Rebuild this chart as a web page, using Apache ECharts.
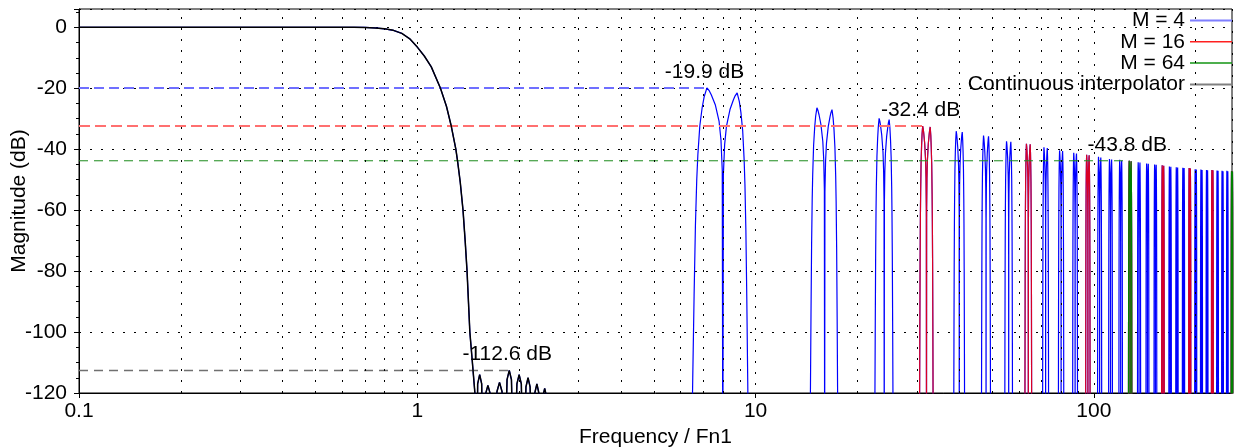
<!DOCTYPE html>
<html>
<head>
<meta charset="UTF-8">
<title>Interpolator magnitude response</title>
<style>
  html, body { margin: 0; padding: 0; background: #fff; }
  #chart { width: 1234px; height: 448px; }
</style>
</head>
<body>
<div id="chart"></div>
<script src="https://cdn.jsdelivr.net/npm/echarts@6/dist/echarts.min.js"></script>
<script>
// baseband response (the same for every curve)
var baseFreq = [0.1, 0.5, 0.65, 0.7, 0.75, 0.8, 0.85, 0.9, 0.95, 1.0, 1.05, 1.1, 1.17, 1.22, 1.26, 1.30, 1.315, 1.34, 1.365, 1.385, 1.403, 1.43, 1.455, 1.48, 1.50,
    1.508, 1.529, 1.55, 1.565,
    1.59, 1.617, 1.645, 1.69,
    1.72, 1.75, 1.78, 1.81,
    1.842, 1.87, 1.898, 1.93,
    1.97, 2.0, 2.03, 2.06,
    2.095, 2.125, 2.155, 2.19,
    2.225, 2.257, 2.287, 2.32,
    2.352, 2.38, 2.408, 2.44];
var baseDb = [0, 0, 0, -0.05, -0.2, -0.5, -1.0, -2.0, -3.8, -6.5, -9.5, -13, -19.9, -26, -32.4, -40, -43.8, -51, -60, -70, -80, -100, -110, -120, -150,
    -117, -114, -117, -150,
    -120.5, -117.5, -120.5, -150,
    -119.5, -116.5, -119.5, -150,
    -115.6, -112.6, -115.6, -150,
    -117, -114, -117, -150,
    -118, -115, -118, -150,
    -120, -117, -120, -150,
    -121, -118.5, -121, -150];

// shape of one image lobe: distance from the image centre (Fn1) and level below the lobe peak (dB)
var lobeDist  = [0.03, 0.1, 0.2, 0.4, 0.6, 0.7, 0.82, 0.95, 1.05, 1.16, 1.25, 1.3, 1.36, 1.42, 1.48, 1.52, 1.58];
var lobeShape = [-27, -17, -11, -5.5, -2.3, -1, 0, -2.8, -6.5, -12.5, -22, -30, -45, -68, -95, -115, -140];
var nullDb = -150;

// image centres and their two peak levels
var imageCentres = [8, 16, 24, 32, 40, 48, 56, 64, 72, 80, 88, 96, 104, 112, 120, 128,
    136, 144, 152, 160, 168, 176, 184, 192, 200, 208, 216, 224, 232, 240, 248, 256];
var imagePeakL = [-19.9, -26.4, -29.9, -32.4, -34.1, -35.5, -37.4, -38.2, -39.4, -40.4, -41.2, -41.8, -42.5, -43.2, -43.5, -43.8,
    -44.3, -44.7, -45.0, -45.3, -45.7, -45.9, -46.1, -46.2, -46.6, -46.7, -46.8, -46.8, -47.0, -47.1, -47.1, -47.2];
var imagePeakR = [-21.5, -27.0, -30.3, -32.7, -34.4, -35.8, -37.6, -38.4, -39.6, -40.6, -41.4, -42.0, -42.7, -43.4, -43.7, -44.0,
    -44.4, -44.8, -45.1, -45.4, -45.8, -46.0, -46.2, -46.3, -46.7, -46.8, -46.9, -46.9, -47.1, -47.2, -47.2, -47.3];
var m16Centres = [32, 64, 96, 128, 160, 192, 224, 256];
var m64Centres = [128, 256];

// worst-case markers
var refLevels = [-19.9, -32.4, -43.8, -112.6];
var refEndFreq = [7.16, 31.16, 127.16, 1.87];
var refLabels = ['-19.9 dB', '-32.4 dB', '-43.8 dB', '-112.6 dB'];

var minorFreqs = [0.2, 0.3, 0.4, 0.5, 0.6, 0.7, 0.8, 0.9, 2, 3, 4, 5, 6, 7, 8, 9, 20, 30, 40, 50, 60, 70, 80, 90, 200];
var legendNames = ['M = 4', 'M = 16', 'M = 64', 'Continuous interpolator'];

var font = "'Liberation Sans', Arial, sans-serif";
var fs = 21;

function baseband() {
    var pts = [];
    for (var i = 0; i < baseFreq.length; i++) pts.push([baseFreq[i], baseDb[i]]);
    return pts;
}

function lobes(centres) {
    var pts = [];
    centres.forEach(function (c) {
        var k = imageCentres.indexOf(c);
        var pl = imagePeakL[k], pr = imagePeakR[k];
        for (var i = lobeDist.length - 1; i >= 0; i--) pts.push([c - lobeDist[i], pl + lobeShape[i]]);
        pts.push([c, nullDb]);
        for (var j = 0; j < lobeDist.length; j++) pts.push([c + lobeDist[j], pr + lobeShape[j]]);
    });
    return pts;
}

function curve(name, data, color, width, opacity) {
    return {
        name: name, type: 'line', data: data, symbol: 'none', clip: true,
        lineStyle: { color: color, width: width, opacity: opacity },
        itemStyle: { color: color },
        emphasis: { disabled: true }, silent: true
    };
}

var refColors = ['#6f6fff', '#ff7070', '#1a8a1a', '#707070'];
var refWidths = [2, 2, 1, 1.5];
var refDash = [[10, 5], [11, 5], [9, 6], [9, 6]];

var series = [
    curve('M = 4', baseband().concat(lobes(imageCentres)), '#0000ff', 1.2, 1),
    curve('M = 16', lobes(m16Centres), '#ff0000', 1.2, 0.85),
    curve('M = 64', lobes(m64Centres), '#008000', 1.2, 1)
];

refLevels.forEach(function (lv, i) {
    series.push({
        name: 'ref' + i, type: 'line', symbol: 'none', silent: true,
        data: [[0.1, lv], [refEndFreq[i], lv]],
        lineStyle: { color: refColors[i], width: refWidths[i], type: refDash[i] },
        markPoint: {
            symbol: 'rect', symbolSize: 1, itemStyle: { color: 'transparent' }, silent: true,
            label: { show: true, position: 'top', distance: 5, offset: [-2, 0], color: '#000', fontSize: fs, fontFamily: font, formatter: refLabels[i] },
            data: [{ coord: [refEndFreq[i], lv] }]
        }
    });
});

series.push(curve('Continuous interpolator', baseband(), '#000000', 1.5, 1));

// minor log grid lines and ticks
series.push({
    name: 'minor', type: 'line', data: [], clip: false, silent: true,
    markLine: {
        silent: true, symbol: ['none', 'none'], label: { show: false },
        lineStyle: { color: '#000', width: 1, type: [2, 9] },
        data: minorFreqs.map(function (f) { return { xAxis: f }; })
    }
});
series.push({
    name: 'minorTicks', type: 'line', data: [], clip: false, silent: true,
    markLine: {
        silent: true, symbol: ['none', 'none'], label: { show: false },
        lineStyle: { color: '#000', width: 1, type: 'solid' },
        data: minorFreqs.map(function (f) { return [{ coord: [f, -120] }, { coord: [f, -121.65] }]; })
    }
});

var legendLines = [
    { color: '#7f7fff', h: 2 },
    { color: '#ff2020', h: 1.5 },
    { color: '#129412', h: 1.5 },
    { color: '#808080', h: 2 }
];

var legends = legendNames.map(function (n, i) {
    return {
        data: [n], right: 2, top: 10 + i * 21.3, padding: 0,
        orient: 'horizontal', align: 'right', selectedMode: false,
        icon: 'rect', itemWidth: 42, itemHeight: legendLines[i].h,
        itemStyle: { color: legendLines[i].color, borderWidth: 0 },
        textStyle: { fontSize: fs, color: '#000', fontFamily: font }
    };
});

var chart = echarts.init(document.getElementById('chart'), null, { renderer: 'canvas' });
chart.setOption({
    animation: false,
    backgroundColor: '#fff',
    textStyle: { fontFamily: font },
    grid: {
        left: 79, right: 2, top: 9, bottom: 55, containLabel: false, outerBoundsMode: 'none',
        show: true, borderColor: '#000', borderWidth: 1
    },
    legend: legends,
    xAxis: {
        type: 'log', logBase: 10, min: 0.1, max: 256,
        name: 'Frequency / Fn1', nameLocation: 'middle', nameGap: 28,
        nameTextStyle: { fontSize: fs, color: '#000', fontFamily: font },
        axisLine: { onZero: false, lineStyle: { color: '#000', width: 1 } },
        axisTick: { length: 5, lineStyle: { color: '#000' } },
        axisLabel: { fontSize: fs, color: '#000', margin: 8, showMaxLabel: false, fontFamily: font },
        splitLine: { show: true, lineStyle: { color: '#000', width: 1, type: [2, 9] } }
    },
    yAxis: {
        type: 'value', min: -120, max: 6, interval: 20,
        name: 'Magnitude (dB)', nameLocation: 'middle', nameGap: 49, nameMoveOverlap: false,
        nameTextStyle: { fontSize: fs, color: '#000', fontFamily: font },
        axisLine: { onZero: false, lineStyle: { color: '#000', width: 1 } },
        axisTick: { length: 5, lineStyle: { color: '#000' } },
        minorTick: { show: true, splitNumber: 4, length: 3, lineStyle: { color: '#000' } },
        axisLabel: { fontSize: fs, color: '#000', margin: 12, showMaxLabel: false, fontFamily: font },
        splitLine: { show: true, lineStyle: { color: '#000', width: 1, type: [2, 9] } }
    },
    series: series
});
</script>
</body>
</html>
